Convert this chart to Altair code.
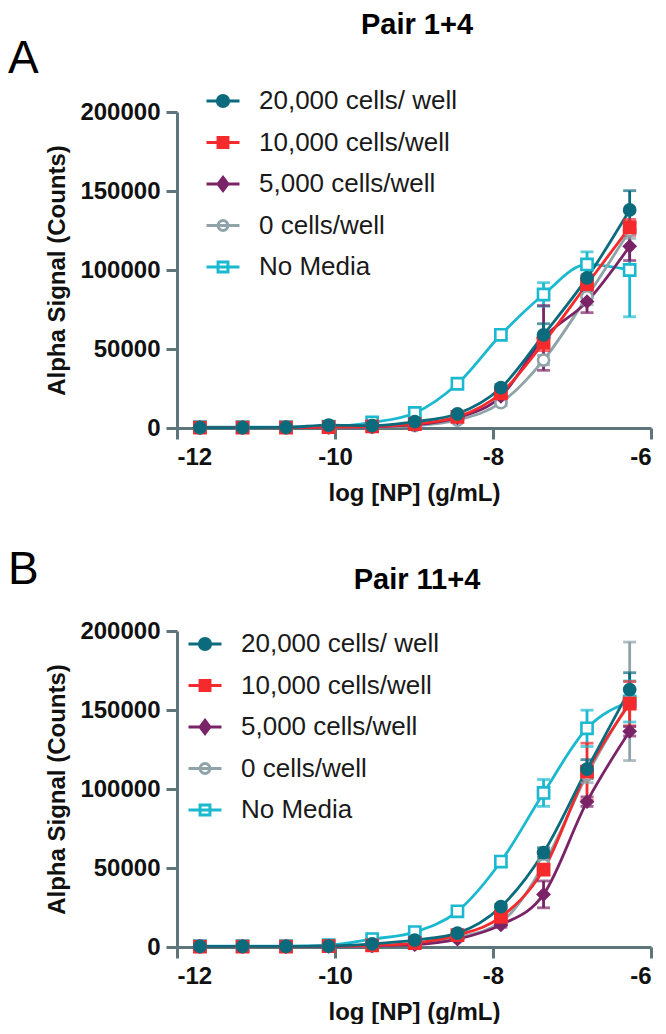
import altair as alt
import pandas as pd

FONT = "Liberation Sans"
AXIS_COLOR = "#5e757b"

# ---- data -------------------------------------------------------------
x_log = [-11.71, -11.17, -10.62, -10.08, -9.53, -8.99, -8.45, -7.90, -7.36, -6.81, -6.27]

series_names = ["20,000 cells/ well", "10,000 cells/well", "5,000 cells/well", "0 cells/well", "No Media"]
series_colors = ["#0b6b7c", "#f42a2d", "#7a2467", "#8fa3a9", "#1bb9cf"]
series_fills = ["#0b6b7c", "#f42a2d", "#7a2467", "#ffffff", "#ffffff"]
series_shapes = ["circle", "square", "diamond", "circle", "square"]
legend_symbols = [
    "M-1,0H1M-0.34,0A0.34,0.34 0 1,1 0.34,0A0.34,0.34 0 1,1 -0.34,0Z",
    "M-1,0H1M-0.3,-0.3H0.3V0.3H-0.3Z",
    "M-1,0H1M0,-0.4L0.3,0L0,0.4L-0.3,0Z",
    "M-1,0H1M-0.3,0A0.3,0.3 0 1,1 0.3,0A0.3,0.3 0 1,1 -0.3,0Z",
    "M-1,0H1M-0.3,-0.3H0.3V0.3H-0.3Z",
]

# Panel A: Pair 1+4
a_20k = [300, 300, 400, 1800, 1500, 4000, 9000, 25500, 59000, 95000, 138000]
a_20k_err = [200, 200, 200, 300, 300, 500, 1000, 2000, 7000, 7500, 12200]
a_10k = [300, 300, 300, 600, 1000, 2500, 7000, 22000, 54000, 91000, 127000]
a_10k_err = [200, 200, 200, 300, 300, 500, 1000, 2000, 5000, 6000, 5000]
a_5k = [300, 300, 300, 500, 800, 2000, 6500, 20000, 57000, 80000, 115000]
a_5k_err = [200, 200, 200, 300, 300, 500, 1000, 4000, 20500, 7000, 9000]
a_0 = [200, 200, 200, 300, 500, 1500, 5000, 16000, 43000, 83000, 125000]
a_0_err = [100, 100, 100, 200, 300, 500, 800, 2000, 3000, 5000, 5000]
a_nm = [500, 500, 500, 800, 3500, 9500, 28000, 59000, 84500, 103500, 100000]
a_nm_err = [200, 200, 200, 300, 500, 1000, 1500, 2500, 7500, 8000, 29600]

# Panel B: Pair 11+4
b_20k = [400, 400, 400, 600, 2000, 4400, 8800, 25500, 59800, 112600, 162900]
b_20k_err = [200, 200, 200, 300, 300, 500, 1000, 1500, 3000, 6000, 10700]
b_10k = [300, 300, 300, 500, 1000, 2500, 7500, 19000, 49000, 111000, 154000]
b_10k_err = [200, 200, 200, 300, 300, 500, 800, 1500, 3000, 18000, 14000]
b_5k = [300, 300, 300, 400, 800, 1500, 5000, 14000, 33300, 92000, 136500]
b_5k_err = [200, 200, 200, 300, 300, 500, 800, 1500, 8500, 3000, 3000]
b_0 = [300, 300, 300, 400, 800, 2000, 6000, 15700, 52000, 109000, 155500]
b_0_err = [200, 200, 200, 300, 300, 500, 800, 1500, 3000, 5000, 37500]
b_nm = [500, 500, 500, 1200, 5000, 9400, 22600, 54100, 97500, 138400, 155400]
b_nm_err = [200, 200, 200, 300, 500, 800, 1000, 3000, 8500, 11500, 13000]

x_ticks = [-12, -10, -8, -6]
y_ticks = [0, 50000, 100000, 150000, 200000]

PW, PH = 474, 316


def make_df(groups):
    rows = []
    for name, (means, errs) in zip(series_names, groups):
        for xv, mv, ev in zip(x_log, means, errs):
            rows.append({"series": name, "x": xv, "y": mv, "lo": mv - ev, "hi": mv + ev})
    df = pd.DataFrame(rows)
    rank = {n: i for i, n in enumerate(series_names[::-1])}
    df["rank"] = df["series"].map(rank)
    return df.sort_values(["rank", "x"]).reset_index(drop=True)


def panel(df, title, letter, leg_x, leg_y, title_dy, letter_dy):
    base = alt.Chart(df)
    xenc = alt.X(
        "x:Q",
        scale=alt.Scale(domain=[-12, -6], nice=False, zero=False),
        axis=alt.Axis(values=x_ticks, title="log [NP] (g/mL)", labelExpr="datum.value",
                      titlePadding=12, labelPadding=6, grid=False),
    )
    yenc = alt.Y(
        "y:Q",
        scale=alt.Scale(domain=[0, 200000], nice=False),
        axis=alt.Axis(values=y_ticks, format="d", title="Alpha Signal (Counts)",
                      titlePadding=10, labelPadding=6, grid=False),
    )
    stroke_n = alt.Stroke("series:N", scale=alt.Scale(domain=series_names, range=series_colors), legend=None)
    color_n = alt.Color("series:N", scale=alt.Scale(domain=series_names, range=series_colors), legend=None)

    lines = base.mark_line(interpolate="monotone", strokeWidth=2.8).encode(
        x=xenc, y=yenc, stroke=stroke_n, detail="series:N"
    )
    bars = base.mark_rule(strokeWidth=2.8).encode(x="x:Q", y="lo:Q", y2="hi:Q", stroke=stroke_n)
    cap_hi = base.mark_tick(orient="horizontal", size=13, thickness=2.8).encode(x="x:Q", y="hi:Q", color=color_n)
    cap_lo = base.mark_tick(orient="horizontal", size=13, thickness=2.8).encode(x="x:Q", y="lo:Q", color=color_n)
    pts = base.mark_point(filled=False, size=125, strokeWidth=2.6, opacity=1).encode(
        x="x:Q",
        y="y:Q",
        stroke=stroke_n,
        fill=alt.Fill("series:N", scale=alt.Scale(domain=series_names, range=series_fills), legend=None),
        shape=alt.Shape("series:N", scale=alt.Scale(domain=series_names, range=series_shapes), legend=None),
    )

    leg = alt.Legend(
        title=None, orient="none", legendX=leg_x, legendY=leg_y, padding=0,
        labelFont=FONT, labelFontSize=26, labelColor="#1a1a1a", labelLimit=500,
        labelOffset=18, symbolSize=1089, symbolStrokeWidth=3, rowPadding=10.5,
        symbolOpacity=1,
    )
    legend_layer = base.transform_filter("false").mark_point(filled=False, strokeWidth=3, opacity=1).encode(
        x="x:Q",
        y="y:Q",
        stroke=alt.Stroke("series:N", scale=alt.Scale(domain=series_names, range=series_colors), legend=leg),
        fill=alt.Fill("series:N", scale=alt.Scale(domain=series_names, range=series_fills), legend=leg),
        shape=alt.Shape("series:N", scale=alt.Scale(domain=series_names, range=legend_symbols), legend=leg),
    )

    letter_txt = alt.Chart(pd.DataFrame({"t": [letter]})).mark_text(
        align="left", baseline="alphabetic", font=FONT, fontSize=46, fontWeight="normal", color="#000000"
    ).encode(text="t:N", x=alt.value(-169), y=alt.value(letter_dy))
    title_txt = alt.Chart(pd.DataFrame({"t": [title]})).mark_text(
        align="center", baseline="alphabetic", font=FONT, fontSize=29, fontWeight="bold", color="#000000"
    ).encode(text="t:N", x=alt.value(PW / 2 + 3), y=alt.value(title_dy))

    return alt.layer(lines, bars, cap_lo, cap_hi, pts, legend_layer, letter_txt, title_txt).resolve_scale(
        stroke="independent", fill="independent", shape="independent", color="independent"
    ).properties(width=PW, height=PH)


df_a = make_df([(a_20k, a_20k_err), (a_10k, a_10k_err), (a_5k, a_5k_err), (a_0, a_0_err), (a_nm, a_nm_err)])
df_b = make_df([(b_20k, b_20k_err), (b_10k, b_10k_err), (b_5k, b_5k_err), (b_0, b_0_err), (b_nm, b_nm_err)])

panel_a = panel(df_a, "Pair 1+4", "A", 28, -29, -78, -39)
panel_b = panel(df_b, "Pair 11+4", "B", 10, -5, -42, -47)

chart = alt.vconcat(panel_a, panel_b, spacing=42).resolve_scale(
    stroke="independent", fill="independent", shape="independent", color="independent"
).properties(padding={"top": 3, "left": 0, "right": 0, "bottom": 0}).configure(font=FONT).configure_view(
    stroke=None
).configure_axis(
    domainColor=AXIS_COLOR, domainWidth=3, tickColor=AXIS_COLOR, tickWidth=3, tickSize=11,
    labelFont=FONT, labelFontSize=24, labelFontWeight="bold", labelColor="#111111",
    titleFont=FONT, titleFontSize=24, titleFontWeight="bold", titleColor="#111111",
    grid=False,
)

chart.save("out.html", embed_options={"renderer": "svg", "actions": False})
